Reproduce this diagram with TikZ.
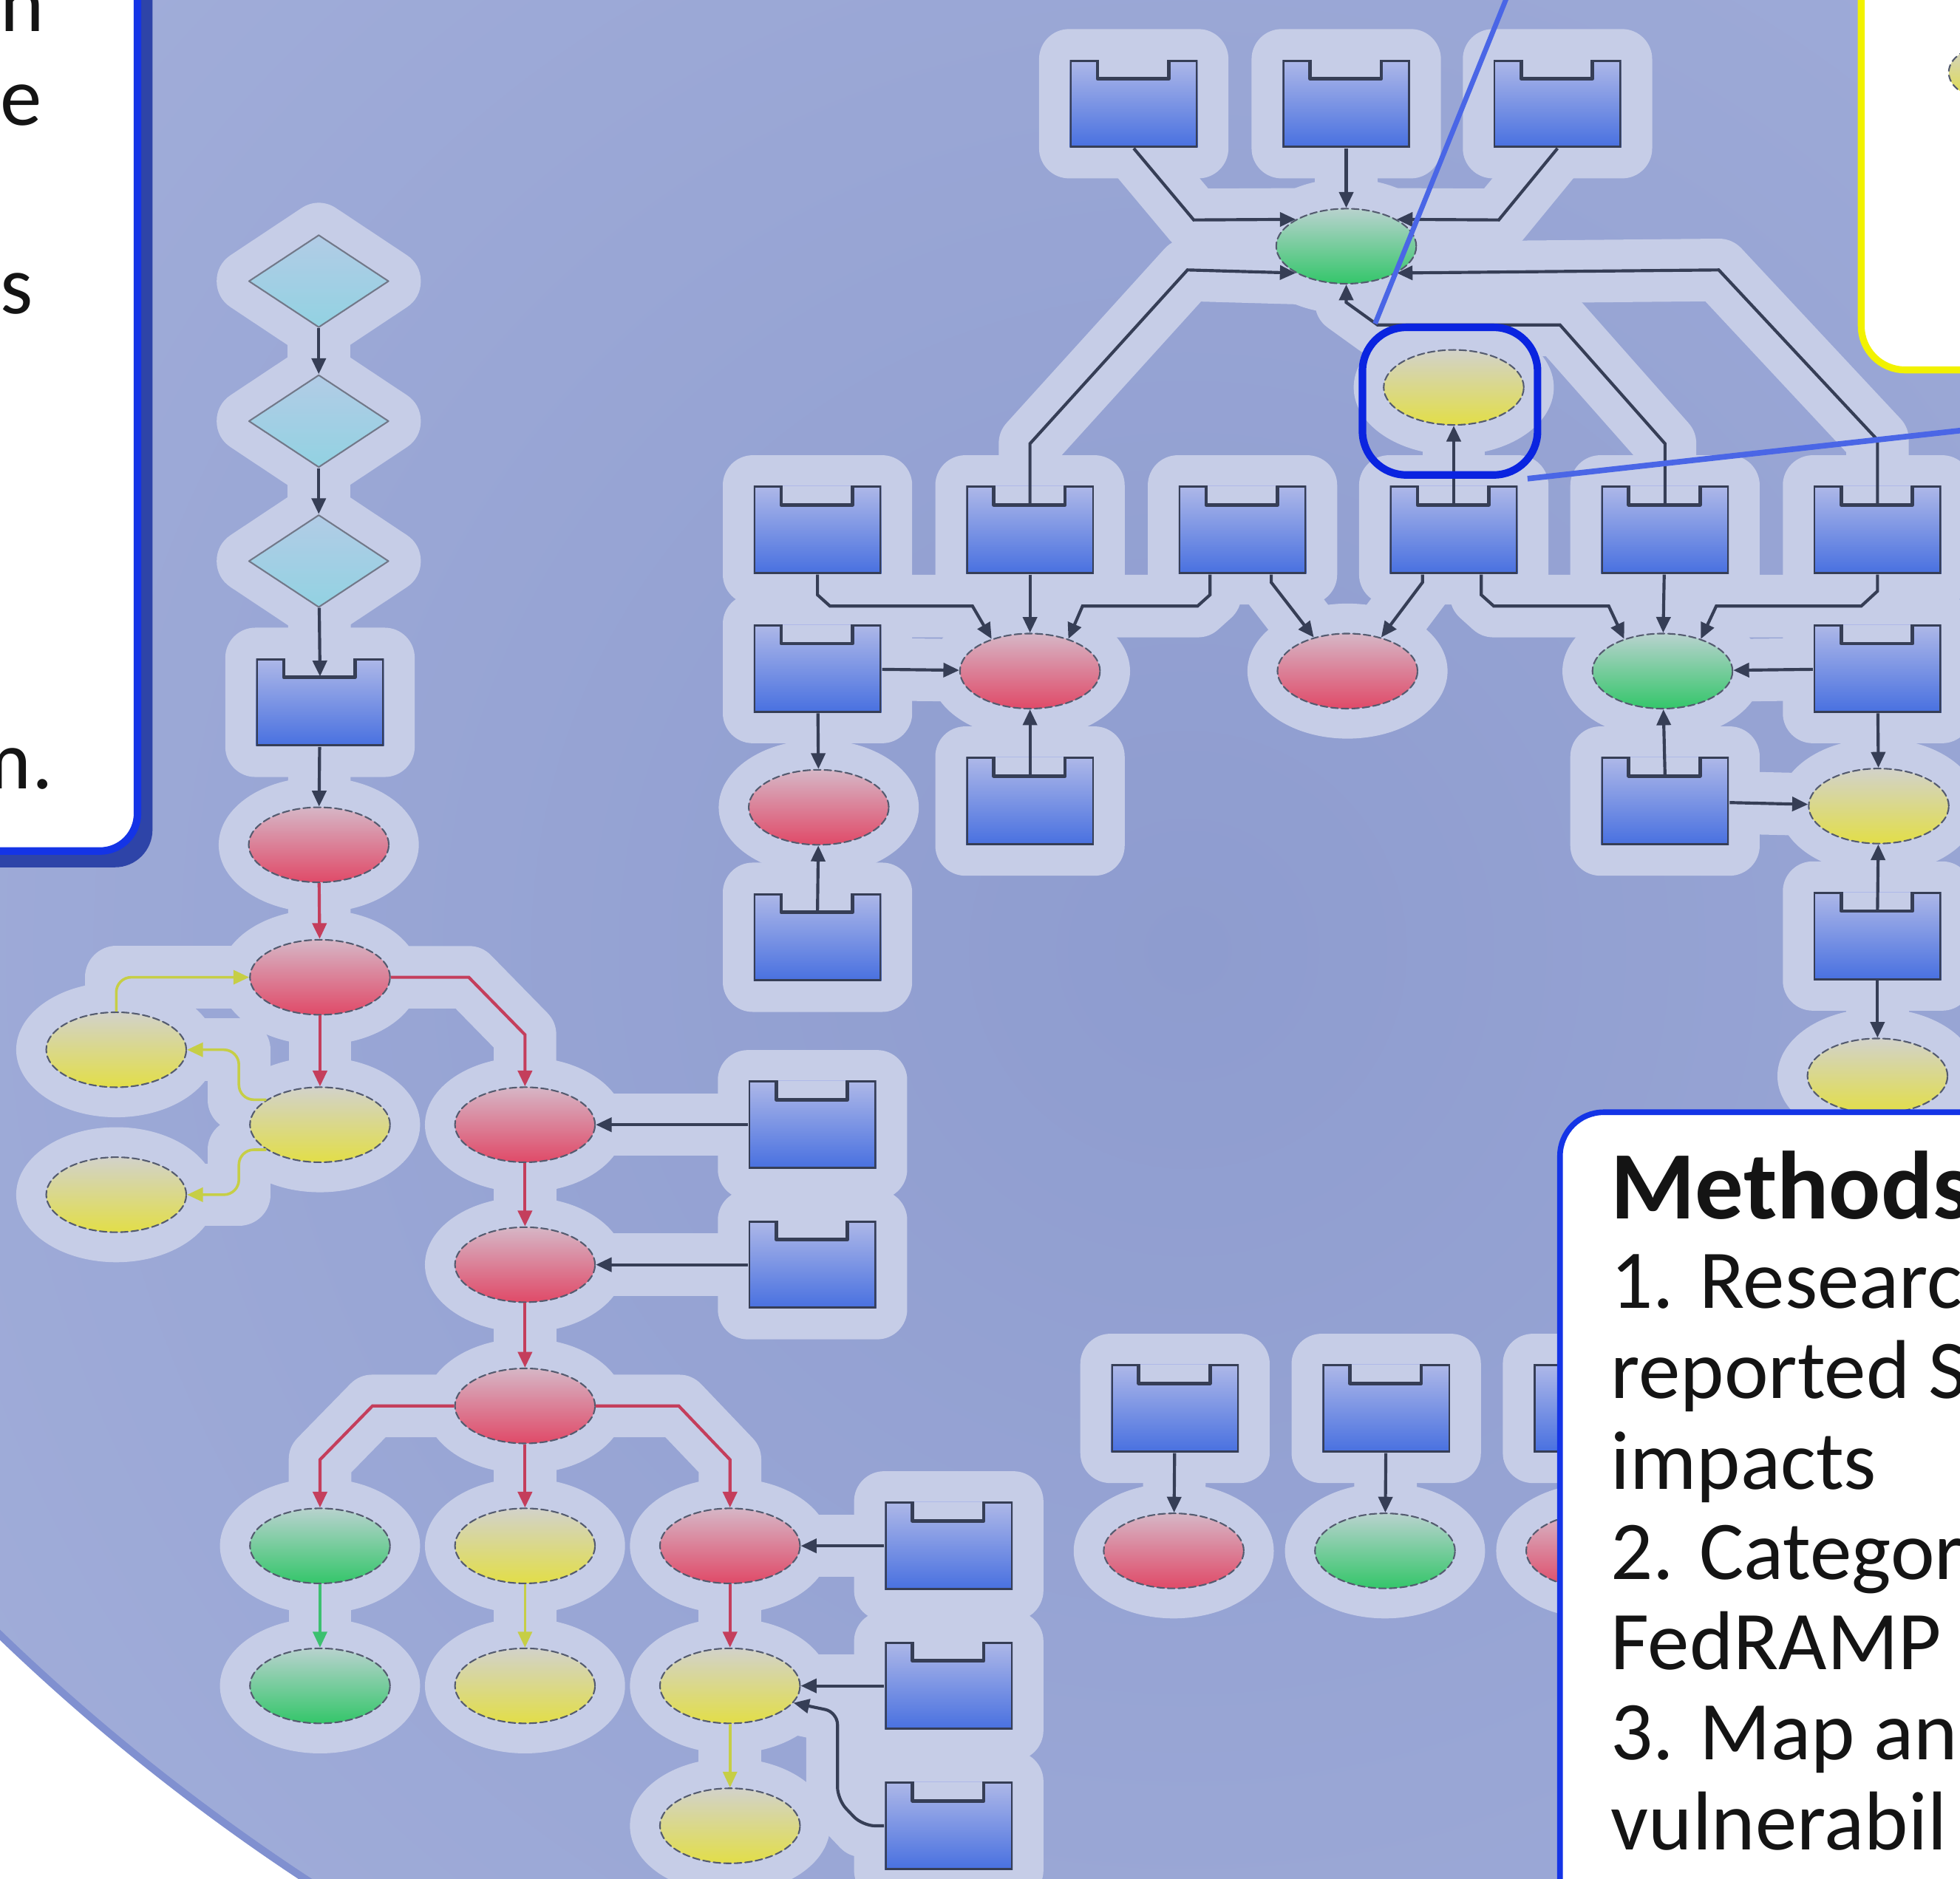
\documentclass[tikz,border=0pt]{standalone}
\usepackage{fontspec}
\setmainfont{Carlito}
\usetikzlibrary{arrows.meta}
\usetikzlibrary{shapes.geometric}

\pgfdeclarelayer{bg}
\pgfdeclarelayer{halo}
\pgfdeclarelayer{edges}
\pgfdeclarelayer{top}
\pgfsetlayers{bg,halo,main,edges,top}

\definecolor{bgmid}{HTML}{8E9CCF}
\definecolor{bgout}{HTML}{A4B0DB}
\definecolor{rimblue}{HTML}{8090D0}
\definecolor{halocol}{HTML}{C6CDE7}
\definecolor{boxtop}{HTML}{AEB8E8}
\definecolor{boxbot}{HTML}{4870E0}
\definecolor{linedark}{HTML}{363E56}
\definecolor{redtop}{HTML}{D6B6C6}
\definecolor{redbot}{HTML}{E04A68}
\definecolor{greentop}{HTML}{B8D2CE}
\definecolor{greenbot}{HTML}{34C66A}
\definecolor{yellowtop}{HTML}{D2D2CA}
\definecolor{yellowbot}{HTML}{E2DE48}
\definecolor{diatop}{HTML}{B2CCE6}
\definecolor{diabot}{HTML}{92D2E2}
\definecolor{redline}{HTML}{C43E5C}
\definecolor{yelline}{HTML}{C6CE46}
\definecolor{grnline}{HTML}{3CC070}
\definecolor{frameblue}{HTML}{1434E6}
\definecolor{shadowblue}{HTML}{2E44A8}
\definecolor{calloutblue}{HTML}{0A24E0}
\definecolor{zoomline}{HTML}{4A66E6}
\definecolor{legendyellow}{HTML}{F2F200}

\tikzset{
  halo line/.style={draw=halocol, line width=0.50cm, line join=round, line cap=round},
  link/.style={draw=linedark, line width=0.7pt, ->},
  redlink/.style={draw=redline, line width=0.7pt},
  yellowlink/.style={draw=yelline, line width=0.6pt},
  greenlink/.style={draw=grnline, line width=0.6pt},
  oval/.style={ellipse, inner sep=0pt, minimum width=1.12cm, minimum height=0.60cm,
    draw=linedark!85, line width=0.35pt, dash pattern=on 1.6pt off 0.8pt},
  rednode/.style={oval, top color=redtop, bottom color=redbot},
  greennode/.style={oval, top color=greentop, bottom color=greenbot},
  yellownode/.style={oval, top color=yellowtop, bottom color=yellowbot},
  diamondnode/.style={diamond, inner sep=0pt, minimum width=1.12cm, minimum height=0.74cm,
    top color=diatop, bottom color=diabot, draw=linedark!70, line width=0.35pt},
  boxnode/.style={rectangle, inner sep=0pt, minimum width=1.02cm, minimum height=0.70cm,
    top color=boxtop, bottom color=boxbot,
    path picture={
      \fill[halocol] ([xshift=0.22cm]path picture bounding box.north west)
        rectangle ([xshift=-0.23cm,yshift=-0.15cm]path picture bounding box.north east);
      \draw[linedark, line width=0.8pt] (path picture bounding box.north west) -- ++(0.22cm,0)
        -- ++(0,-0.15cm) -- ([xshift=-0.23cm,yshift=-0.15cm]path picture bounding box.north east)
        -- ++(0,0.15cm) -- (path picture bounding box.north east)
        -- (path picture bounding box.south east) -- (path picture bounding box.south west) -- cycle;
    }},
  notetext/.style={font=\fontsize{19}{20.5}\selectfont, inner sep=0pt, text=black!92},
}

% a connector with its pale band underneath
\newcommand{\flowlink}[2][]{%
  \begin{pgfonlayer}{halo}\path[halo line] #2;\end{pgfonlayer}%
  \begin{pgfonlayer}{edges}\path[link,#1] #2;\end{pgfonlayer}%
}

\begin{document}
\begin{tikzpicture}[line cap=round,line join=round,>={Triangle[length=3.6pt,width=3.2pt]},x=0.01cm,y=-0.01cm]
\useasboundingbox (0,0) rectangle (1568,1503);

% backdrop
\begin{pgfonlayer}{bg}
\fill[white] (0,0) rectangle (1568,1503);
\begin{scope}
\clip (1175,88) circle [radius=16.93cm];
\fill[bgout] (0,0) rectangle (1568,1503);
\shade[inner color=bgmid, outer color=bgout] (950,760) circle [radius=14cm];
\end{scope}
\draw[rimblue, line width=0.06cm] (1175,88) circle [radius=16.93cm];
\end{pgfonlayer}

% left column
\node[diamondnode] (d1) at (255,225) {};
\node[diamondnode] (d2) at (255,337) {};
\node[diamondnode] (d3) at (255,449) {};
\node[boxnode] (b0) at (256,562) {};
\node[rednode] (r0) at (255,676) {};
\node[rednode] (r1) at (256,782) {};
\node[yellownode] (y1) at (93,840) {};
\node[yellownode] (y2) at (256,900) {};
\node[yellownode] (y3) at (93,956) {};
\node[rednode] (r2) at (420,900) {};
\node[boxnode] (b1) at (650,900) {};
\node[rednode] (r3) at (420,1012) {};
\node[boxnode] (b2) at (650,1012) {};
\node[rednode] (r4) at (420,1125) {};
\node[greennode] (g1) at (256,1237) {};
\node[yellownode] (y4) at (420,1237) {};
\node[rednode] (r5) at (584,1237) {};
\node[boxnode] (b3) at (759,1237) {};
\node[greennode] (g2) at (256,1349) {};
\node[yellownode] (y5) at (420,1349) {};
\node[yellownode] (y6) at (584,1349) {};
\node[boxnode] (b4) at (759,1349) {};
\node[yellownode] (y7) at (584,1461) {};
\node[boxnode] (b5) at (759,1461) {};

% middle block
\node[boxnode] (m1) at (654,424) {};
\node[boxnode] (m2) at (824,424) {};
\node[boxnode] (m3) at (994,424) {};
\node[boxnode] (m4) at (1163,424) {};
\node[boxnode] (m5) at (1332,424) {};
\node[boxnode] (m6) at (1502,424) {};
\node[boxnode] (mb1) at (654,535) {};
\node[rednode] (mr1) at (824,537) {};
\node[rednode] (mr2) at (1078,537) {};
\node[greennode] (mg1) at (1330,537) {};
\node[boxnode] (mb2) at (1502,535) {};
\node[rednode] (mr3) at (655,646) {};
\node[boxnode] (mb3) at (824,641) {};
\node[boxnode] (mb4) at (1332,641) {};
\node[yellownode] (my1) at (1503,645) {};
\node[boxnode] (mb5) at (654,750) {};
\node[boxnode] (mb6) at (1502,749) {};
\node[yellownode] (my2) at (1502,861) {};
\coordinate (mlow) at (1502,960);

% top block
\node[boxnode] (ta) at (907,83) {};
\node[boxnode] (tb) at (1077,83) {};
\node[boxnode] (tc) at (1246,83) {};
\node[greennode] (tg) at (1077,197) {};
\node[yellownode] (ty) at (1163,310) {};

% bottom pairs
\node[boxnode] (bb1) at (940,1127) {};
\node[boxnode] (bb2) at (1109,1127) {};
\node[boxnode] (bb3) at (1278,1127) {};
\node[rednode] (be1) at (939,1241) {};
\node[greennode] (be2) at (1108,1241) {};
\node[rednode] (be3) at (1277,1241) {};

% pale bands round the nodes
\begin{pgfonlayer}{halo}
\foreach \n in {b0,b1,b2,b3,b4,b5,m1,m2,m3,m4,m5,m6,mb1,mb2,mb3,mb4,mb5,mb6,ta,tb,tc,bb1,bb2,bb3}
  \fill[halocol, rounded corners=0.24cm] ([shift={(-0.24cm,0.24cm)}]\n.north west) rectangle ([shift={(0.24cm,-0.24cm)}]\n.south east);
\foreach \n in {r0,r1,r2,r3,r4,r5,y1,y2,y3,y4,y5,y6,y7,g1,g2,mr1,mr2,mr3,mg1,my1,my2,tg,ty,be1,be2,be3}
  \fill[halocol] (\n) ellipse [x radius=0.80cm, y radius=0.54cm];
\foreach \n in {d1,d2,d3}
  \filldraw[halocol, line width=0.50cm, line join=round] (\n.north) -- (\n.east) -- (\n.south) -- (\n.west) -- cycle;
\end{pgfonlayer}

% left column links
\flowlink{(d1) -- (d2)}
\flowlink{(d2) -- (d3)}
\flowlink{(d3) -- ([yshift=-0.15cm]b0.north)}
\flowlink{(b0) -- (r0)}
\flowlink[redlink]{(r0) -- (r1)}
\flowlink[yellowlink, rounded corners=0.12cm]{(y1.north) |- (r1.west)}
\flowlink[yellowlink, rounded corners=0.12cm]{(y2.155) -- ++(-22,0) |- (y1.east)}
\flowlink[yellowlink, rounded corners=0.12cm]{(y2.205) -- ++(-22,0) |- (y3.east)}
\flowlink[redlink]{(r1) -- (y2)}
\flowlink[redlink]{(r1.east) -- (375,782) -- (420,828) -- (r2.north)}
\flowlink{(b1) -- (r2)}
\flowlink[redlink]{(r2) -- (r3)}
\flowlink{(b2) -- (r3)}
\flowlink[redlink]{(r3) -- (r4)}
\flowlink[redlink]{(r4.west) -- (298,1125) -- (256,1168) -- (g1.north)}
\flowlink[redlink]{(r4) -- (y4)}
\flowlink[redlink]{(r4.east) -- (543,1125) -- (584,1168) -- (r5.north)}
\flowlink{(b3) -- (r5)}
\flowlink[greenlink]{(g1) -- (g2)}
\flowlink[yellowlink]{(y4) -- (y5)}
\flowlink[redlink]{(r5) -- (y6)}
\flowlink{(b4) -- (y6)}
\flowlink[rounded corners=0.1cm]{(b5.west) -- (690,1461) -- (670,1440) -- (670,1370) -- (y6.-15)}
\flowlink[yellowlink]{(y6) -- (y7)}

% middle links
\flowlink{(m1.south) -- (654,476) -- (664,485) -- (778,485) -- (mr1.140)}
\flowlink{(m2) -- (mr1)}
\flowlink{([xshift=-0.26cm]m3.south) -- (968,476) -- (958,485) -- (866,485) -- (mr1.40)}
\flowlink{([xshift=0.23cm]m3.south) -- (1017,466) -- (mr2.135)}
\flowlink{([xshift=-0.25cm]m4.south) -- (1138,466) -- (mr2.45)}
\flowlink{([xshift=0.22cm]m4.south) -- (1185,476) -- (1195,485) -- (1287,485) -- (mg1.140)}
\flowlink{(m5) -- (mg1)}
\flowlink{(m6.south) -- (1502,473) -- (1489,485) -- (1373,485) -- (mg1.40)}
\flowlink{(mb1) -- (mr1)}
\flowlink{(mb1) -- (mr3)}
\flowlink{([yshift=-0.15cm]mb5.north) -- (mr3)}
\flowlink{([yshift=-0.15cm]mb3.north) -- (mr1)}
\flowlink{(mb2) -- (mg1)}
\flowlink{([yshift=-0.15cm]mb4.north) -- (mg1)}
\flowlink{(mb4) -- (my1)}
\flowlink{(mb2) -- (my1)}
\flowlink{([yshift=-0.15cm]mb6.north) -- (my1)}
\flowlink{(mb6) -- (my2)}
\flowlink{(mlow) -- (my2)}
\flowlink{([yshift=-0.15cm]m4.north) -- (ty)}

% top links
\flowlink{(ta.south) -- (955,176) -- (tg.152)}
\flowlink{(tb) -- (tg)}
\flowlink{(tc.south) -- (1199,176) -- (tg.28)}
\flowlink{([yshift=-0.15cm]m2.north) -- (824,355) -- (950,216) -- (tg.208)}
\flowlink{([yshift=-0.15cm]m5.north) -- (1332,355) -- (1248,260) -- (1102,260) -- (1077,242) -- (tg.south)}
\flowlink{([yshift=-0.15cm]m6.north) -- (1502,352) -- (1375,216) -- (tg.-28)}

% bottom links
\flowlink{(bb1) -- (be1)}
\flowlink{(bb2) -- (be2)}
\flowlink{(bb3) -- (be3)}

\begin{pgfonlayer}{top}
% left note
\fill[shadowblue, rounded corners=0.3cm] (-292,-60) rectangle (122,694);
\filldraw[fill=white, draw=frameblue, line width=0.06cm, rounded corners=0.3cm] (-300,-60) rectangle (110,681);
\node[notetext, anchor=base east] (nt1) at (36,25) {n};
\node[notetext, anchor=base east] (nt2) at (34,100) {e};
\node[notetext, anchor=base east] (nt3) at (27,251) {s};
\node[notetext, anchor=base east] (nt4) at (43,631) {m.};

% legend corner
\filldraw[fill=white, draw=legendyellow, line width=0.055cm, rounded corners=0.35cm] (1489,-60) rectangle (1700,296);
\node[yellownode, minimum width=0.62cm, minimum height=0.42cm] (lg1) at (1590,58) {};

% methods note
\filldraw[fill=white, draw=frameblue, line width=0.045cm, rounded corners=0.35cm] (1248,890) rectangle (1700,1620);
\node[notetext, font=\fontsize{22}{24}\selectfont\bfseries, anchor=base west] (mh) at (1288,975) {Methods};
\foreach \txt [count=\i from 0] in {1. Researc, reported S, impacts, 2. Categor, FedRAMP, 3. Map an, vulnerabil}
  \node[notetext, anchor=base west] (ml\i) at (1288,{1047+72.2*\i}) {\txt};

% zoom frame
\node[draw=calloutblue, line width=0.06cm, rounded corners=0.35cm, minimum width=1.40cm, minimum height=1.18cm] (focus) at (1160,321) {};
\coordinate (zt) at (1207,-6);
\coordinate (zr) at (1600,341);
\draw[zoomline, line width=0.04cm] (focus.134) -- (zt);
\draw[zoomline, line width=0.045cm] (focus.-45) -- (zr);
\end{pgfonlayer}
\end{tikzpicture}
\end{document}
